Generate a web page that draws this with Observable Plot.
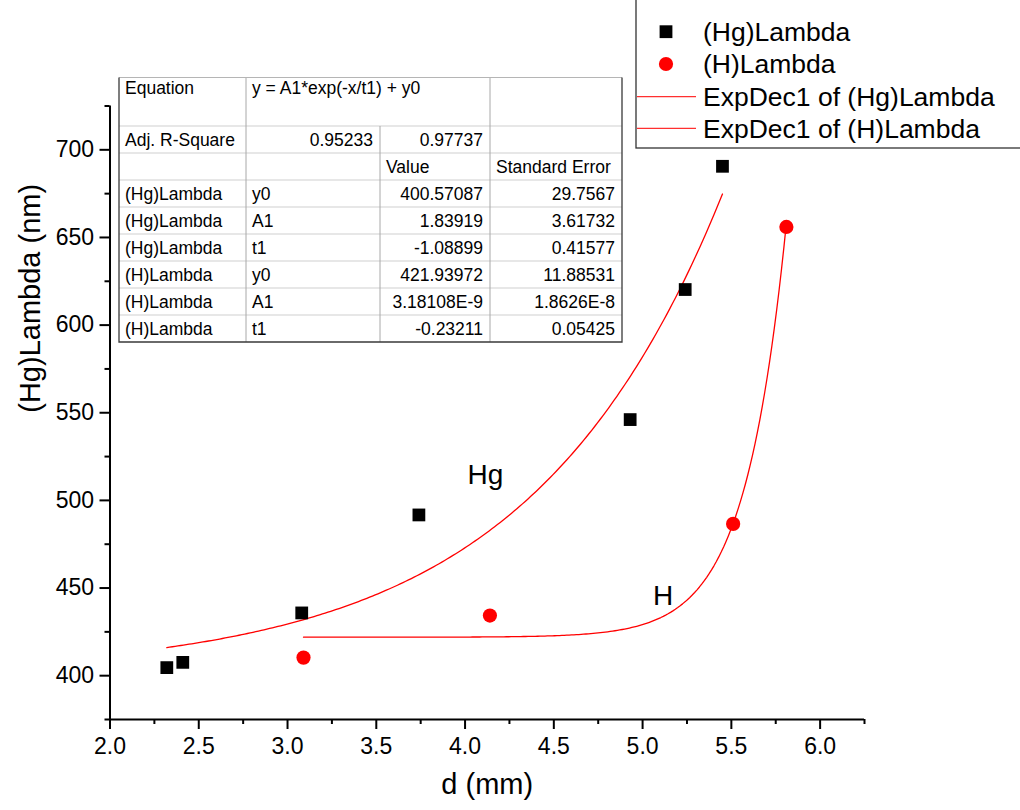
<!DOCTYPE html>
<html>
<head>
<meta charset="utf-8">
<script src="https://cdn.jsdelivr.net/npm/d3@7"></script>
<script src="https://cdn.jsdelivr.net/npm/@observablehq/plot@0.6"></script>
<style>
  html, body { margin: 0; padding: 0; background: #fff; }
  #wrap { position: relative; width: 1020px; height: 810px; overflow: hidden; font-family: "Liberation Sans", Arial, sans-serif; }
  #wrap svg { position: absolute; left: 0; top: 0; }
</style>
</head>
<body>
<div id="wrap"></div>
<script>
// ---- data ----
const hgX = [2.32, 2.41, 3.08, 3.74, 4.93, 5.24, 5.45];
const hgY = [404.6, 407.6, 435.8, 491.7, 546.1, 620.3, 690.6];
const hX = [3.09, 4.14, 5.51, 5.81];
const hY = [410.3, 434.3, 486.6, 656.0];

// fit table (as printed in the chart)
const fitEquation = "y = A1*exp(-x/t1) + y0";
const adjR2 = ["0.95233", "0.97737"];
const paramSeries = ["(Hg)Lambda", "(Hg)Lambda", "(Hg)Lambda", "(H)Lambda", "(H)Lambda", "(H)Lambda"];
const paramNames = ["y0", "A1", "t1", "y0", "A1", "t1"];
const paramValues = ["400.57087", "1.83919", "-1.08899", "421.93972", "3.18108E-9", "-0.23211"];
const paramErrors = ["29.7567", "3.61732", "0.41577", "11.88531", "1.8626E-8", "0.05425"];

// tick labels
const xMajor = [2.0, 2.5, 3.0, 3.5, 4.0, 4.5, 5.0, 5.5, 6.0];
const xMinor = [2.25, 2.75, 3.25, 3.75, 4.25, 4.75, 5.25, 5.75, 6.25];
const yMajor = [400, 450, 500, 550, 600, 650, 700];
const yMinor = [375, 425, 475, 525, 575, 625, 675, 725];

// legend and annotations
const legendLabels = ["(Hg)Lambda", "(H)Lambda", "ExpDec1 of (Hg)Lambda", "ExpDec1 of (H)Lambda"];
const annoText = ["Hg", "H"];
const annoX = [4.114, 5.115];
const annoY = [514.2, 445.7];

// ---- build tables ----
const hg = hgX.map((x, i) => ({x, y: hgY[i]}));
const hh = hX.map((x, i) => ({x, y: hY[i]}));
const annos = annoText.map((t, i) => ({t, x: annoX[i], y: annoY[i]}));

// fitted curves from the printed parameters: y = A1*exp(-x/t1) + y0
function fitCurve(pts, y0, A1, t1) {
  const [a, b] = d3.extent(pts, d => d.x);
  const n = 200;
  return d3.range(n + 1).map(i => {
    const x = a + (b - a) * i / n;
    return {x, y: A1 * Math.exp(-x / t1) + y0};
  });
}
const hgFit = fitCurve(hg, +paramValues[0], +paramValues[1], +paramValues[2]);
const hFit = fitCurve(hh, +paramValues[3], +paramValues[4], +paramValues[5]);

const font = "'Liberation Sans', Arial, sans-serif";

const chart = Plot.plot({
  width: 1020,
  height: 810,
  marginLeft: 109.5,
  marginRight: 156,
  marginTop: 105.5,
  marginBottom: 91,
  style: {fontFamily: font, color: "black", background: "white", overflow: "visible"},
  x: {domain: [2, 6.25]},
  y: {domain: [375, 725]},
  marks: [
    Plot.axisX({ticks: xMinor, tickSize: 5, strokeWidth: 2, tickFormat: () => "", label: null}),
    Plot.axisX({ticks: xMajor, tickSize: 10, tickPadding: 8, strokeWidth: 2, fontSize: 23, tickFormat: d3.format(".1f"), label: null}),
    Plot.axisY({ticks: yMinor, tickSize: 5, strokeWidth: 2, tickFormat: () => "", label: null}),
    Plot.axisY({ticks: yMajor, tickSize: 10, tickPadding: 6, strokeWidth: 2, fontSize: 23, label: null}),
    Plot.ruleX([2], {stroke: "black", strokeWidth: 2}),
    Plot.ruleY([375], {stroke: "black", strokeWidth: 2}),
    Plot.line(hgFit, {x: "x", y: "y", stroke: "#ff0000", strokeWidth: 1.3}),
    Plot.line(hFit, {x: "x", y: "y", stroke: "#ff0000", strokeWidth: 1.3}),
    Plot.dot(hg, {x: "x", y: "y", symbol: "square", r: 7.2, fill: "black", stroke: "none"}),
    Plot.dot(hh, {x: "x", y: "y", symbol: "circle", r: 7.1, fill: "#ff0000", stroke: "none"}),
    Plot.text(annos, {x: "x", y: "y", text: "t", fontSize: 28, fill: "black"}),
    Plot.text(["d (mm)"], {frameAnchor: "bottom", dy: 74, text: d => d, fontSize: 29, fill: "black"}),
    Plot.text(["(Hg)Lambda (nm)"], {frameAnchor: "left", dx: -79.5, rotate: -90, text: d => d, fontSize: 29, fill: "black"})
  ]
});
document.getElementById("wrap").appendChild(chart);

// ---- overlay: fit table and legend ----
const ov = d3.select("#wrap").append("svg")
  .attr("width", 1020).attr("height", 810)
  .style("font-family", font);

// table
const colX = [119, 246, 380, 490, 622];
const rowY = [77.5, 126, 153, 180, 207, 234, 261, 288, 315, 342];
const tfs = 17.5;
const tg = ov.append("g");
tg.append("rect").attr("x", colX[0]).attr("y", rowY[0])
  .attr("width", colX[4] - colX[0]).attr("height", rowY[rowY.length - 1] - rowY[0])
  .attr("fill", "white").attr("stroke", "none");
// horizontal inner lines
rowY.slice(1, -1).forEach(y => {
  tg.append("line").attr("x1", colX[0]).attr("x2", colX[4]).attr("y1", y).attr("y2", y)
    .attr("stroke", "#cfcfcf").attr("stroke-width", 1);
});
// vertical inner lines
[colX[1], colX[3]].forEach(x => {
  tg.append("line").attr("x1", x).attr("x2", x).attr("y1", rowY[0]).attr("y2", rowY[rowY.length - 1])
    .attr("stroke", "#a8a8a8").attr("stroke-width", 1);
});
tg.append("line").attr("x1", colX[2]).attr("x2", colX[2]).attr("y1", rowY[1]).attr("y2", rowY[rowY.length - 1])
  .attr("stroke", "#a8a8a8").attr("stroke-width", 1);
// outer border
tg.append("line").attr("x1", colX[0]).attr("x2", colX[4]).attr("y1", rowY[0]).attr("y2", rowY[0])
  .attr("stroke", "#b5b5b5").attr("stroke-width", 1);
tg.append("path")
  .attr("d", `M${colX[0]},${rowY[0]} V${rowY[9]} H${colX[4]} V${rowY[0]}`)
  .attr("fill", "none").attr("stroke", "#3a3a3a").attr("stroke-width", 1.3);

function cell(text, col, row, align, top) {
  const y = top ? rowY[row] + 16.5 : (rowY[row] + rowY[row + 1]) / 2 + 6;
  const x = align === "end" ? colX[col + 1] - 7 : colX[col] + 6;
  tg.append("text").attr("x", x).attr("y", y).attr("text-anchor", align)
    .attr("font-size", tfs).attr("fill", "black").text(text);
}
cell("Equation", 0, 0, "start", true);
cell(fitEquation, 1, 0, "start", true);
cell("Adj. R-Square", 0, 1, "start");
cell(adjR2[0], 1, 1, "end");
cell(adjR2[1], 2, 1, "end");
cell("Value", 2, 2, "start");
cell("Standard Error", 3, 2, "start");
paramSeries.forEach((s, i) => {
  cell(s, 0, 3 + i, "start");
  cell(paramNames[i], 1, 3 + i, "start");
  cell(paramValues[i], 2, 3 + i, "end");
  cell(paramErrors[i], 3, 3 + i, "end");
});

// legend
const lg = ov.append("g");
lg.append("rect").attr("x", 636).attr("y", -2).attr("width", 400).attr("height", 150)
  .attr("fill", "white").attr("stroke", "#333").attr("stroke-width", 1.3);
const legY = [31.7, 64, 96.7, 128.3];
const sq = 12.8;
lg.append("rect").attr("x", 666 - sq / 2).attr("y", legY[0] - sq / 2).attr("width", sq).attr("height", sq).attr("fill", "black");
lg.append("circle").attr("cx", 666).attr("cy", legY[1]).attr("r", 7.1).attr("fill", "#ff0000");
[2, 3].forEach(i => {
  lg.append("line").attr("x1", 637).attr("x2", 696).attr("y1", legY[i]).attr("y2", legY[i])
    .attr("stroke", "#ff3030").attr("stroke-width", 1.2);
});
legendLabels.forEach((t, i) => {
  lg.append("text").attr("x", 703).attr("y", legY[i]).attr("dy", "0.35em")
    .attr("font-size", 26.5).attr("fill", "black").text(t);
});
</script>
</body>
</html>
